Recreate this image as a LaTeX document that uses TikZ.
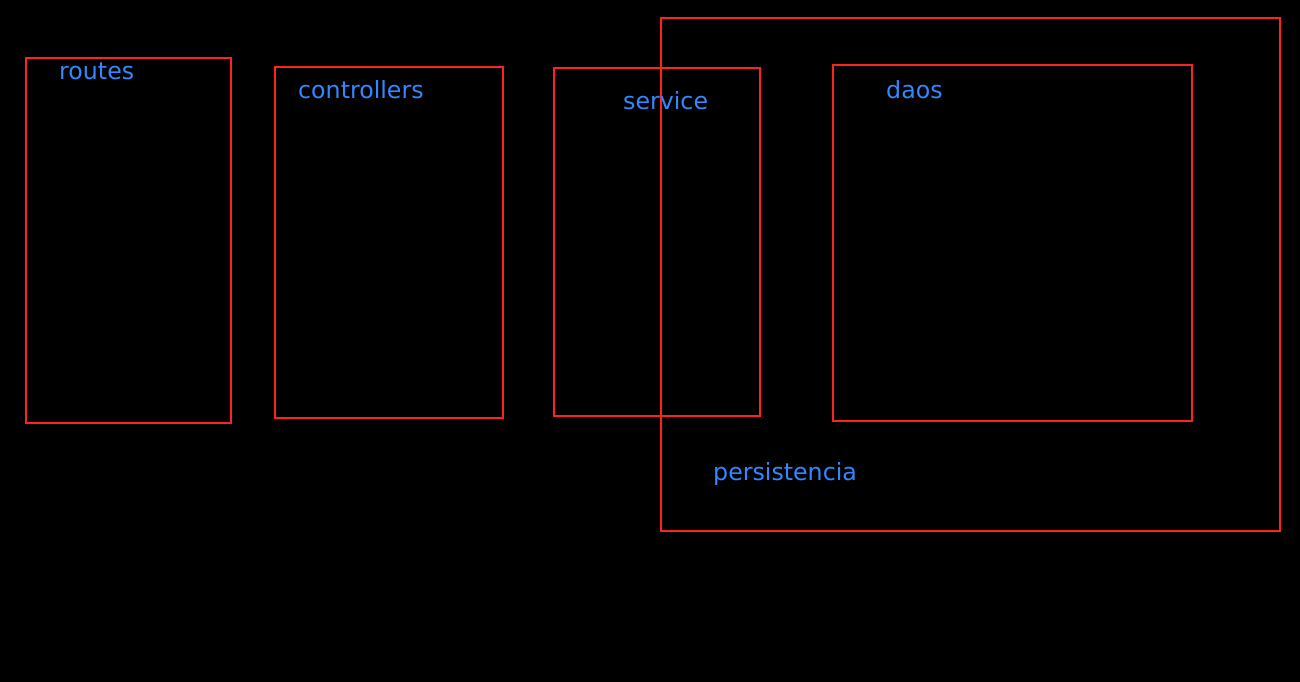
\documentclass[tikz,border=0pt]{standalone}
\usepackage{fontspec}
\setmainfont{DejaVu Sans}
\definecolor{boxred}{RGB}{255,34,34}
\definecolor{labelblue}{RGB}{51,136,255}
\begin{document}
\begin{tikzpicture}[x=1pt, y=-1pt]
\tikzstyle{layer}=[draw=boxred, line width=1.8pt, inner sep=0pt];
\tikzstyle{layerlabel}=[text=labelblue, font=\fontsize{23.7}{28}\selectfont, anchor=base west, inner sep=0pt];
\fill[black] (0,0) rectangle (1300,682);
\useasboundingbox (0,0) rectangle (1300,682);
% layers
\node [layer, minimum width=205pt, minimum height=365pt] (routes) at (128.5, 240.5) {};
\node [layer, minimum width=228pt, minimum height=351pt] (controllers) at (389, 242.5) {};
\node [layer, minimum width=619pt, minimum height=513pt] (persistencia) at (970.5, 274.5) {};
\node [layer, minimum width=206pt, minimum height=348pt] (service) at (657, 242) {};
\node [layer, minimum width=359pt, minimum height=356pt] (daos) at (1012.5, 243) {};
% labels
\node [layerlabel] (routeslbl) at (59, 79.5) {routes};
\node [layerlabel] (controllerslbl) at (298, 99) {controllers};
\node [layerlabel] (servicelbl) at (623, 109.5) {service};
\node [layerlabel] (daoslbl) at (886, 98.5) {daos};
\node [layerlabel] (persistencialbl) at (713, 480.5) {persistencia};
\end{tikzpicture}
\end{document}
